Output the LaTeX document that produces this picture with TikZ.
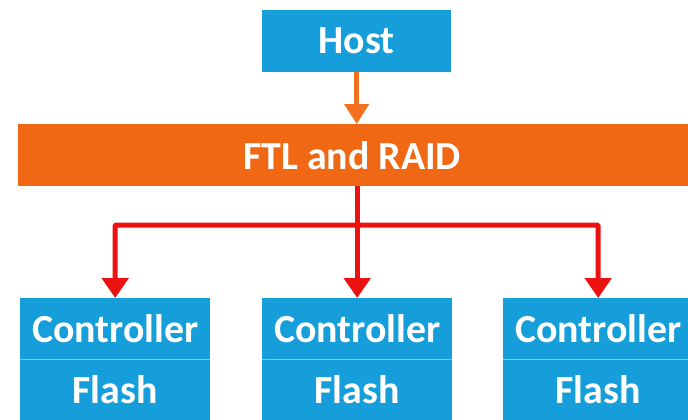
\documentclass[tikz,border=0pt]{standalone}
\usepackage{fontspec}
\setmainfont{Carlito}
\usetikzlibrary{arrows.meta}
\definecolor{boxblue}{RGB}{22,158,218}
\definecolor{barorange}{RGB}{240,104,20}
\definecolor{arrred}{RGB}{236,18,18}
\definecolor{arrorange}{RGB}{242,112,30}
\begin{document}
\begin{tikzpicture}[x=1bp,y=-1bp,
  bluebox/.style={fill=boxblue, text=white, font=\bfseries\fontsize{40}{42}\selectfont,
    inner sep=0pt, minimum width=190bp, minimum height=61bp, anchor=north west},
  sep/.style={draw=boxblue!55!white, line width=1.2bp},
  redarr/.style={draw=arrred, line width=5bp, -{Triangle[width=26bp,length=20bp]}},
  redline/.style={draw=arrred, line width=5bp}
]
\useasboundingbox (0,0) rectangle (688,419);
\node[bluebox, minimum width=189bp, minimum height=62bp] (host) at (262,10) {Host};
\node[fill=barorange, text=white, font=\bfseries\fontsize{40}{42}\selectfont,
  inner sep=0pt, minimum width=676bp, minimum height=62bp, anchor=north west] (ftl) at (18,124) {\hspace*{-4bp}FTL and RAID\hspace*{4bp}};
\node[bluebox] (c1) at (20,298) {Controller};
\node[bluebox] (c2) at (262,298) {Controller};
\node[bluebox] (c3) at (503,298) {Controller};
\node[bluebox, anchor=north] (f1) at (c1.south) {Flash};
\node[bluebox, anchor=north] (f2) at (c2.south) {Flash};
\node[bluebox, anchor=north] (f3) at (c3.south) {Flash};
\foreach \i in {1,2,3} {\draw[sep] (c\i.south west) -- (c\i.south east);}
\draw[draw=arrorange, line width=4.5bp, -{Triangle[width=24bp,length=20bp]}] (host.south) -- (host.south |- ftl.north);
\coordinate (j) at (357,225);
\draw[redline] (ftl.south -| j) -- (j);
\draw[redarr] (j) -- (j -| c2.north) -- (c2.north);
\draw[redarr, rounded corners=1bp] ([xshift=2.5bp]j) -| (c1.north);
\draw[redarr, rounded corners=1bp] ([xshift=-2.5bp]j) -| (c3.north);
\end{tikzpicture}
\end{document}
